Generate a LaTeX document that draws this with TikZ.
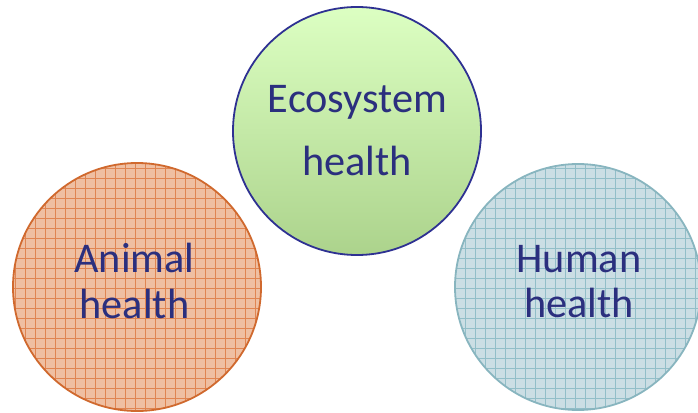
\documentclass[tikz,border=0pt]{standalone}
\usepackage{fontspec}
\setmainfont{Carlito}
\usetikzlibrary{shadings}
\definecolor{navy}{HTML}{2E3192}
\definecolor{txt}{HTML}{2B2F7E}
\definecolor{ecotop}{HTML}{DCFFC2}
\definecolor{ecobot}{HTML}{ACD38C}
\definecolor{anifill}{HTML}{EFBFA2}
\definecolor{anigrid}{HTML}{E08552}
\definecolor{aniedge}{HTML}{D0692E}
\definecolor{humfill}{HTML}{CBDEE4}
\definecolor{humgrid}{HTML}{92BEC8}
\definecolor{humedge}{HTML}{88B5BF}
\tikzset{
  label/.style={anchor=base, inner sep=0pt, text=txt, font=\fontsize{42.3}{46}\selectfont},
  disc/.style={circle, inner sep=0pt, line width=1.8pt},
  gridline/.style={line width=0.75pt},
}
\begin{document}
\begin{tikzpicture}[x=1pt,y=-1pt]
\useasboundingbox (0,0) rectangle (698,412);
% Ecosystem
\node[disc, minimum size=248pt, draw=navy, top color=ecotop, bottom color=ecobot] (eco) at (357,131) {};
% Animal
\node[disc, minimum size=248pt, fill=anifill] (ani) at (137,287) {};
\begin{scope}
  \clip (ani.center) circle (124);
  \foreach \x in {15.7,25.7,...,265.7} \draw[anigrid, gridline] (\x,160) -- (\x,412);
  \foreach \y in {168,178,...,412} \draw[anigrid, gridline] (10,\y) -- (265,\y);
\end{scope}
\node[disc, minimum size=248pt, draw=aniedge] (anib) at (ani.center) {};
% Human
\node[disc, minimum size=246pt, fill=humfill] (hum) at (578,287) {};
\begin{scope}
  \clip (hum.center) circle (123);
  \foreach \x in {455.7,465.7,...,705.7} \draw[humgrid, gridline] (\x,160) -- (\x,412);
  \foreach \y in {168,178,...,412} \draw[humgrid, gridline] (450,\y) -- (705,\y);
\end{scope}
\node[disc, minimum size=246pt, draw=humedge] (humb) at (hum.center) {};
% Labels
\node[label] (eco1) at (357.5,112) {Ecosystem};
\node[label] (eco2) at (357,175) {health};
\node[label] (ani1) at (134.5,272) {Animal};
\node[label] (ani2) at (134.5,318) {health};
\node[label] (hum1) at (579,272) {Human};
\node[label] (hum2) at (579,317) {health};
\end{tikzpicture}
\end{document}
